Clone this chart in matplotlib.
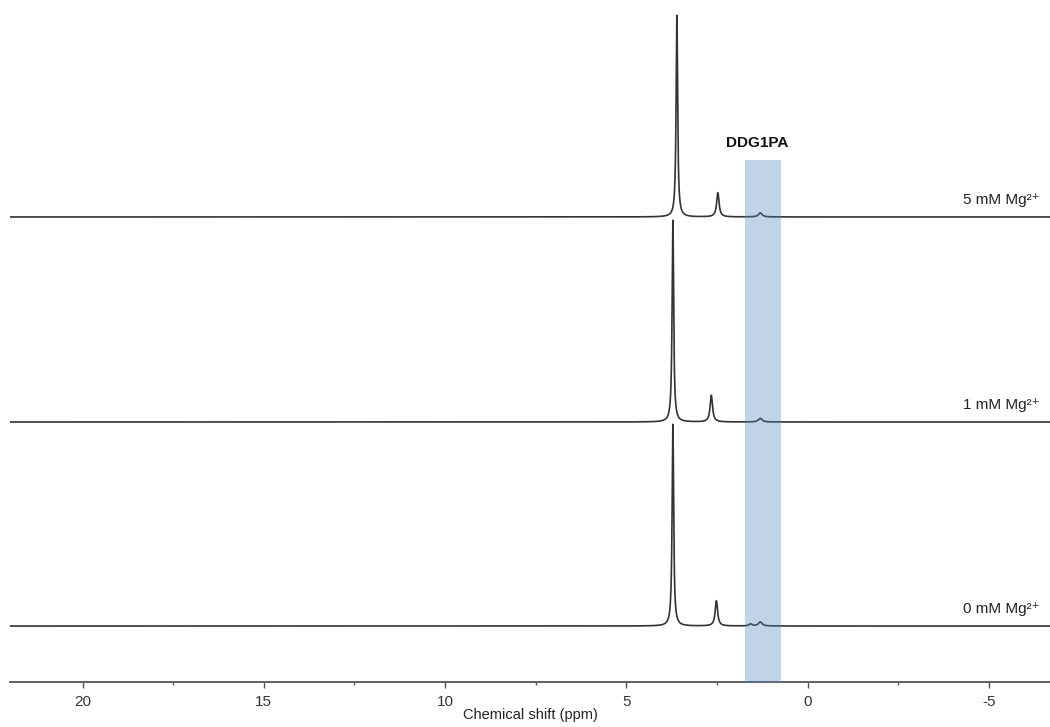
import numpy as np
import matplotlib
matplotlib.use("Agg")
import matplotlib.pyplot as plt
from matplotlib.ticker import MultipleLocator

plt.rcParams['font.family'] = ['Liberation Sans', 'DejaVu Sans']
plt.rcParams['axes.unicode_minus'] = False

# Spectra, bottom to top
labels = ["0 mM Mg\u00b2\u207a", "1 mM Mg\u00b2\u207a", "5 mM Mg\u00b2\u207a"]
offsets = [0.0, 1.01, 2.025]

# Peak lists per spectrum: position (ppm), height (relative), half-width (ppm)
peak_pos = [
    [3.72, 2.52, 1.58, 1.31],
    [3.72, 2.66, 1.31],
    [3.61, 2.48, 1.31],
]
peak_height = [
    [1.00, 0.125, 0.010, 0.020],
    [1.00, 0.132, 0.018],
    [1.00, 0.120, 0.020],
]
peak_hwhm = [
    [0.025, 0.040, 0.05, 0.06],
    [0.025, 0.040, 0.06],
    [0.025, 0.040, 0.06],
]

band_ppm = (1.72, 0.74)
band_top = 2.307
band_label = "DDG1PA"

ppm = np.linspace(22.5, -7.5, 12000)

fig = plt.figure(figsize=(10.5, 7.27), dpi=100)
ax = fig.add_axes([10 / 1050, 45 / 727, 1040 / 1050, 682 / 727])

for lab, off, pos, hts, ws in zip(labels, offsets, peak_pos, peak_height, peak_hwhm):
    spec = np.zeros_like(ppm)
    for p, h, w in zip(pos, hts, ws):
        spec += h * w**2 / ((ppm - p) ** 2 + w**2)
    ax.plot(ppm, spec + off, color="#333333", lw=1.2, solid_joinstyle="round")
    ax.text(-6.40, off + 0.085, lab, ha="right", va="center", fontsize=11,
            color="#222222")

# Highlighted region drawn over the traces
ax.fill_between(band_ppm, -0.3, band_top, color="#4f81bd", alpha=0.35,
                lw=0, zorder=3)
ax.text(np.mean(band_ppm) + 0.17, band_top + 0.085, band_label, ha="center",
        va="center", fontsize=11, fontweight="bold", color="#111111")

ax.set_xlim(22, -6.68)
ax.set_ylim(-0.277, 3.099)

for s in ["left", "right", "top"]:
    ax.spines[s].set_visible(False)
ax.spines["bottom"].set_color("#555555")
ax.spines["bottom"].set_linewidth(1.3)
ax.set_yticks([])
ax.xaxis.set_major_locator(MultipleLocator(5))
ax.xaxis.set_minor_locator(MultipleLocator(2.5))
ax.tick_params(axis="x", which="major", length=4, width=1, color="#555555",
               labelsize=11, labelcolor="#333333", pad=5)
ax.tick_params(axis="x", which="minor", length=2, width=1, color="#555555")
ax.set_xlabel("Chemical shift (ppm)", fontsize=10.5, color="#222222", labelpad=0)

fig.savefig("out.png", dpi=100)
